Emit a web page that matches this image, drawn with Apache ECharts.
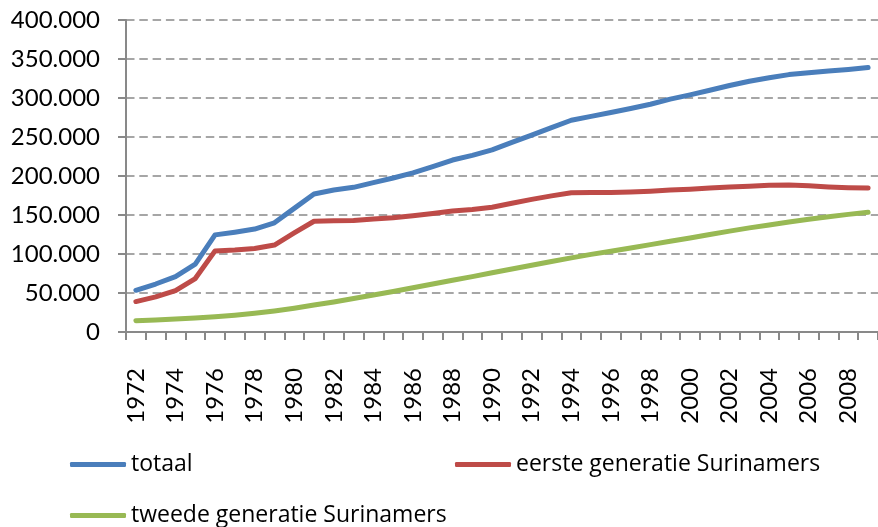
<!DOCTYPE html>
<html>
<head>
<meta charset="utf-8">
<script src="https://cdn.jsdelivr.net/npm/echarts@6/dist/echarts.min.js"></script>
<style>
  html, body { margin: 0; padding: 0; background: #fff; }
  #chart { width: 878px; height: 527px; }
</style>
</head>
<body>
<div id="chart"></div>
<script>
  // jaren 1972 - 2009
  var years = ['1972', '1973', '1974', '1975', '1976', '1977', '1978', '1979', '1980', '1981',
    '1982', '1983', '1984', '1985', '1986', '1987', '1988', '1989', '1990', '1991',
    '1992', '1993', '1994', '1995', '1996', '1997', '1998', '1999', '2000', '2001',
    '2002', '2003', '2004', '2005', '2006', '2007', '2008', '2009'];

  var totaal = [53500, 61500, 71000, 87000, 124500, 128000, 132000, 140000, 158500, 177000,
    182000, 185500, 191500, 197500, 204000, 212000, 220500, 226500, 233500, 243000,
    252500, 262000, 271500, 276500, 281500, 286500, 292000, 298500, 304000, 310000,
    316000, 321500, 326000, 330000, 332500, 334500, 336500, 339000];

  var eerste = [39000, 45000, 53000, 68500, 104000, 105000, 107000, 111500, 127000, 142000,
    142500, 143000, 145000, 146500, 149000, 152000, 155000, 157000, 160000, 165000,
    170000, 174500, 178500, 179000, 179000, 179500, 180500, 182000, 183000, 184500,
    186000, 187000, 188000, 188500, 187500, 186000, 185000, 184500];

  var tweede = [14500, 15500, 16600, 17800, 19500, 21500, 24000, 27000, 30500, 34500,
    38500, 43000, 47500, 52000, 56700, 61500, 66300, 71000, 76000, 80700,
    85500, 90300, 95000, 99500, 103500, 107700, 112000, 116300, 120600, 125000,
    129300, 133500, 137300, 141000, 144500, 147800, 150800, 153500];

  var names = ['totaal', 'eerste generatie Surinamers', 'tweede generatie Surinamers'];
  var colors = ['#4a7ebb', '#be4b48', '#98b954'];

  var font = 'Lato, sans-serif';
  var legendFont = '"Open Sans", sans-serif';
  var gray = '#898989';

  function legendAt(name, left, top) {
    return {
      data: [name],
      left: left,
      top: top,
      padding: 0,
      icon: 'roundRect',
      itemWidth: 56,
      itemHeight: 5,
      textStyle: { fontFamily: legendFont, fontSize: 23, color: '#000' }
    };
  }

  function lineSeries(i, data) {
    return {
      name: names[i],
      type: 'line',
      data: data,
      symbol: 'none',
      smooth: false,
      color: colors[i],
      lineStyle: { width: 5, color: colors[i], cap: 'round', join: 'round' }
    };
  }

  var chart = echarts.init(document.getElementById('chart'));
  chart.setOption({
    animation: false,
    legend: [
      legendAt(names[0], 70, 453),
      legendAt(names[1], 455, 453),
      legendAt(names[2], 70, 504)
    ],
    grid: { left: 126, top: 20, width: 759, height: 312 },
    xAxis: {
      type: 'category',
      data: years,
      boundaryGap: true,
      axisLine: { lineStyle: { color: gray, width: 2 } },
      axisTick: { show: true, interval: 0, length: 8, lineStyle: { color: gray, width: 2 } },
      axisLabel: {
        interval: 1,
        rotate: 90,
        margin: 36,
        color: '#000',
        fontFamily: font,
        fontSize: 24
      },
      splitLine: { show: false }
    },
    yAxis: {
      type: 'value',
      min: 0,
      max: 400000,
      interval: 50000,
      axisLine: { show: true, lineStyle: { color: gray, width: 2 } },
      axisTick: { show: true, length: 8, lineStyle: { color: gray, width: 2 } },
      axisLabel: {
        margin: 26,
        color: '#000',
        fontFamily: font,
        fontSize: 24,
        formatter: function (v) {
          return v === 0 ? '0' : String(v).replace(/\B(?=(\d{3})+(?!\d))/g, '.');
        }
      },
      splitLine: { show: true, lineStyle: { color: gray, width: 1.5, type: [8.5, 4.8] } }
    },
    series: [
      lineSeries(0, totaal),
      lineSeries(1, eerste),
      lineSeries(2, tweede)
    ]
  });
</script>
</body>
</html>
